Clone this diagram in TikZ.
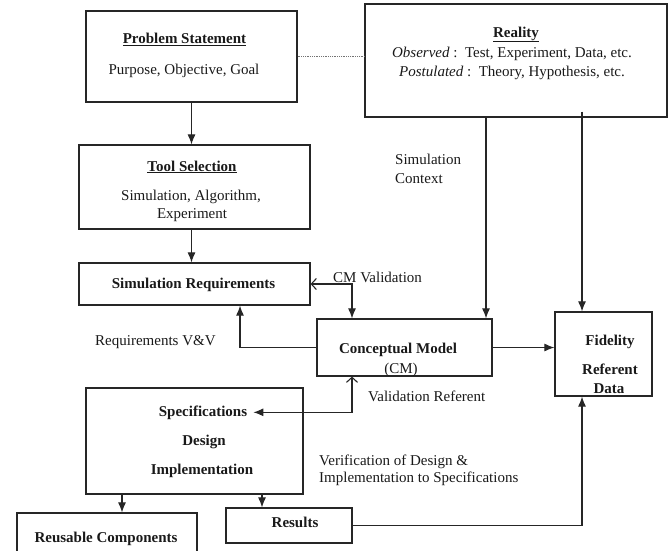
\documentclass[tikz,border=0pt]{standalone}
\usepackage{fontspec}
\setmainfont{Liberation Serif}
\usetikzlibrary{arrows.meta}
\begin{document}
\begin{tikzpicture}[x=1pt,y=-1pt,
  font=\fontsize{15}{18.5}\selectfont,
  box/.style={draw=black!85,line width=1.2pt,inner sep=0pt},
  txt/.style={anchor=base,inner sep=0pt,text=black!90},
  ltxt/.style={anchor=base west,inner sep=0pt,text=black!90},
  conn/.style={draw=black!85,line width=1.1pt},
  arr/.style={conn,-{Latex[length=10pt,width=8pt]}},
  openend/.style={{Straight Barb[length=5pt,width=11pt,line width=1.1pt]}-{Latex[length=10pt,width=8pt]}},
]
\useasboundingbox (0,0) rectangle (671,550);

% boxes
\node[box,minimum width=211pt,minimum height=91pt] (ps) at (191.5,56.5) {};
\node[box,minimum width=231pt,minimum height=84pt] (ts) at (194.5,187) {};
\node[box,minimum width=231pt,minimum height=42pt] (sr) at (194.5,284) {};
\node[box,minimum width=302pt,minimum height=113pt] (re) at (516,60.5) {};
\node[box,minimum width=175pt,minimum height=57pt] (cm) at (404.5,347.5) {};
\node[box,minimum width=97pt,minimum height=84pt] (fd) at (603.5,354) {};
\node[box,minimum width=217pt,minimum height=106pt] (sdi) at (194.5,441) {};
\node[box,minimum width=180pt,minimum height=39pt] (ru) at (107,532.5) {};
\node[box,minimum width=126pt,minimum height=35pt] (rs) at (289,525.5) {};

% box texts
\node[txt] (pst) at (184.5,43.5) {\textbf{\underline{Problem Statement}}};
\node[txt] (psb) at (184,74) {Purpose, Objective, Goal};
\node[txt] (tst) at (192,171) {\textbf{\underline{Tool Selection}}};
\node[txt] (tsb) at (191,200) {Simulation, Algorithm,};
\node[txt] (tsc) at (192,218.5) {Experiment};
\node[txt] (srt) at (193.5,288) {\textbf{Simulation Requirements}};
\node[txt] (ret) at (516,37) {\textbf{\underline{Reality}}};
\node[txt] (reb) at (512,57) {\textit{Observed} :\, Test, Experiment, Data, etc.};
\node[txt] (rec) at (512,76) {\textit{Postulated} :\, Theory, Hypothesis, etc.};
\node[txt] (cmt) at (398,353) {\textbf{Conceptual Model}};
\node[txt] (cmb) at (401,373) {(CM)};
\node[txt] (fdt) at (610,345) {\textbf{Fidelity}};
\node[txt] (fdb) at (610,374) {\textbf{Referent}};
\node[txt] (fdc) at (609,393) {\textbf{Data}};
\node[txt,inner xsep=6pt] (spec) at (203,416) {\textbf{Specifications}};
\node[txt] (dsg) at (204,445) {\textbf{Design}};
\node[txt] (imp) at (202,474) {\textbf{Implementation}};
\node[txt] (rut) at (106,542) {\textbf{Reusable Components}};
\node[txt] (rst) at (295,527) {\textbf{Results}};

% connector labels
\node[ltxt] (lsc) at (395,164) {Simulation};
\node[ltxt] (lsd) at (395,183) {Context};
\node[ltxt] (lcv) at (333,282) {CM Validation};
\node[ltxt] (lrv) at (95,345) {Requirements V\&V};
\node[ltxt] (lvr) at (368,401) {Validation Referent};
\node[ltxt] (lva) at (319,465) {Verification of Design \&};
\node[ltxt] (lvb) at (319,482) {Implementation to Specifications};

% connector columns
\coordinate (xa) at (486,0);
\coordinate (xb) at (582,0);
\coordinate (xc) at (352,0);
\coordinate (xd) at (240,0);
\coordinate (xe) at (122,0);
\coordinate (xf) at (262,0);

% connectors
\draw[arr] (ps.south) -- (ts.north -| ps.south);
\draw[arr] (ts.south -| ps.south) -- (sr.north -| ps.south);
\draw[draw=black!55,line width=0.8pt,densely dotted] (ps.east) -- (ps.east -| re.west);
\draw[arr] (re.south -| xa) -- (cm.north -| xa);
\draw[arr] ([yshift=6pt]re.south -| xb) -- (fd.north -| xb);
\draw[arr] (cm.east) -- (cm.east -| fd.west);
\draw[conn,openend] (sr.east) -| (cm.north -| xc);
\draw[arr] (cm.west) -| (sr.south -| xd);
\draw[conn,openend] (cm.south -| xc) |- (spec.east);
\draw[arr] (sdi.south -| xe) -- (ru.north -| xe);
\draw[arr] (sdi.south -| xf) -- (rs.north -| xf);
\draw[arr] (rs.east) -| (fd.south -| xb);
\end{tikzpicture}
\end{document}
